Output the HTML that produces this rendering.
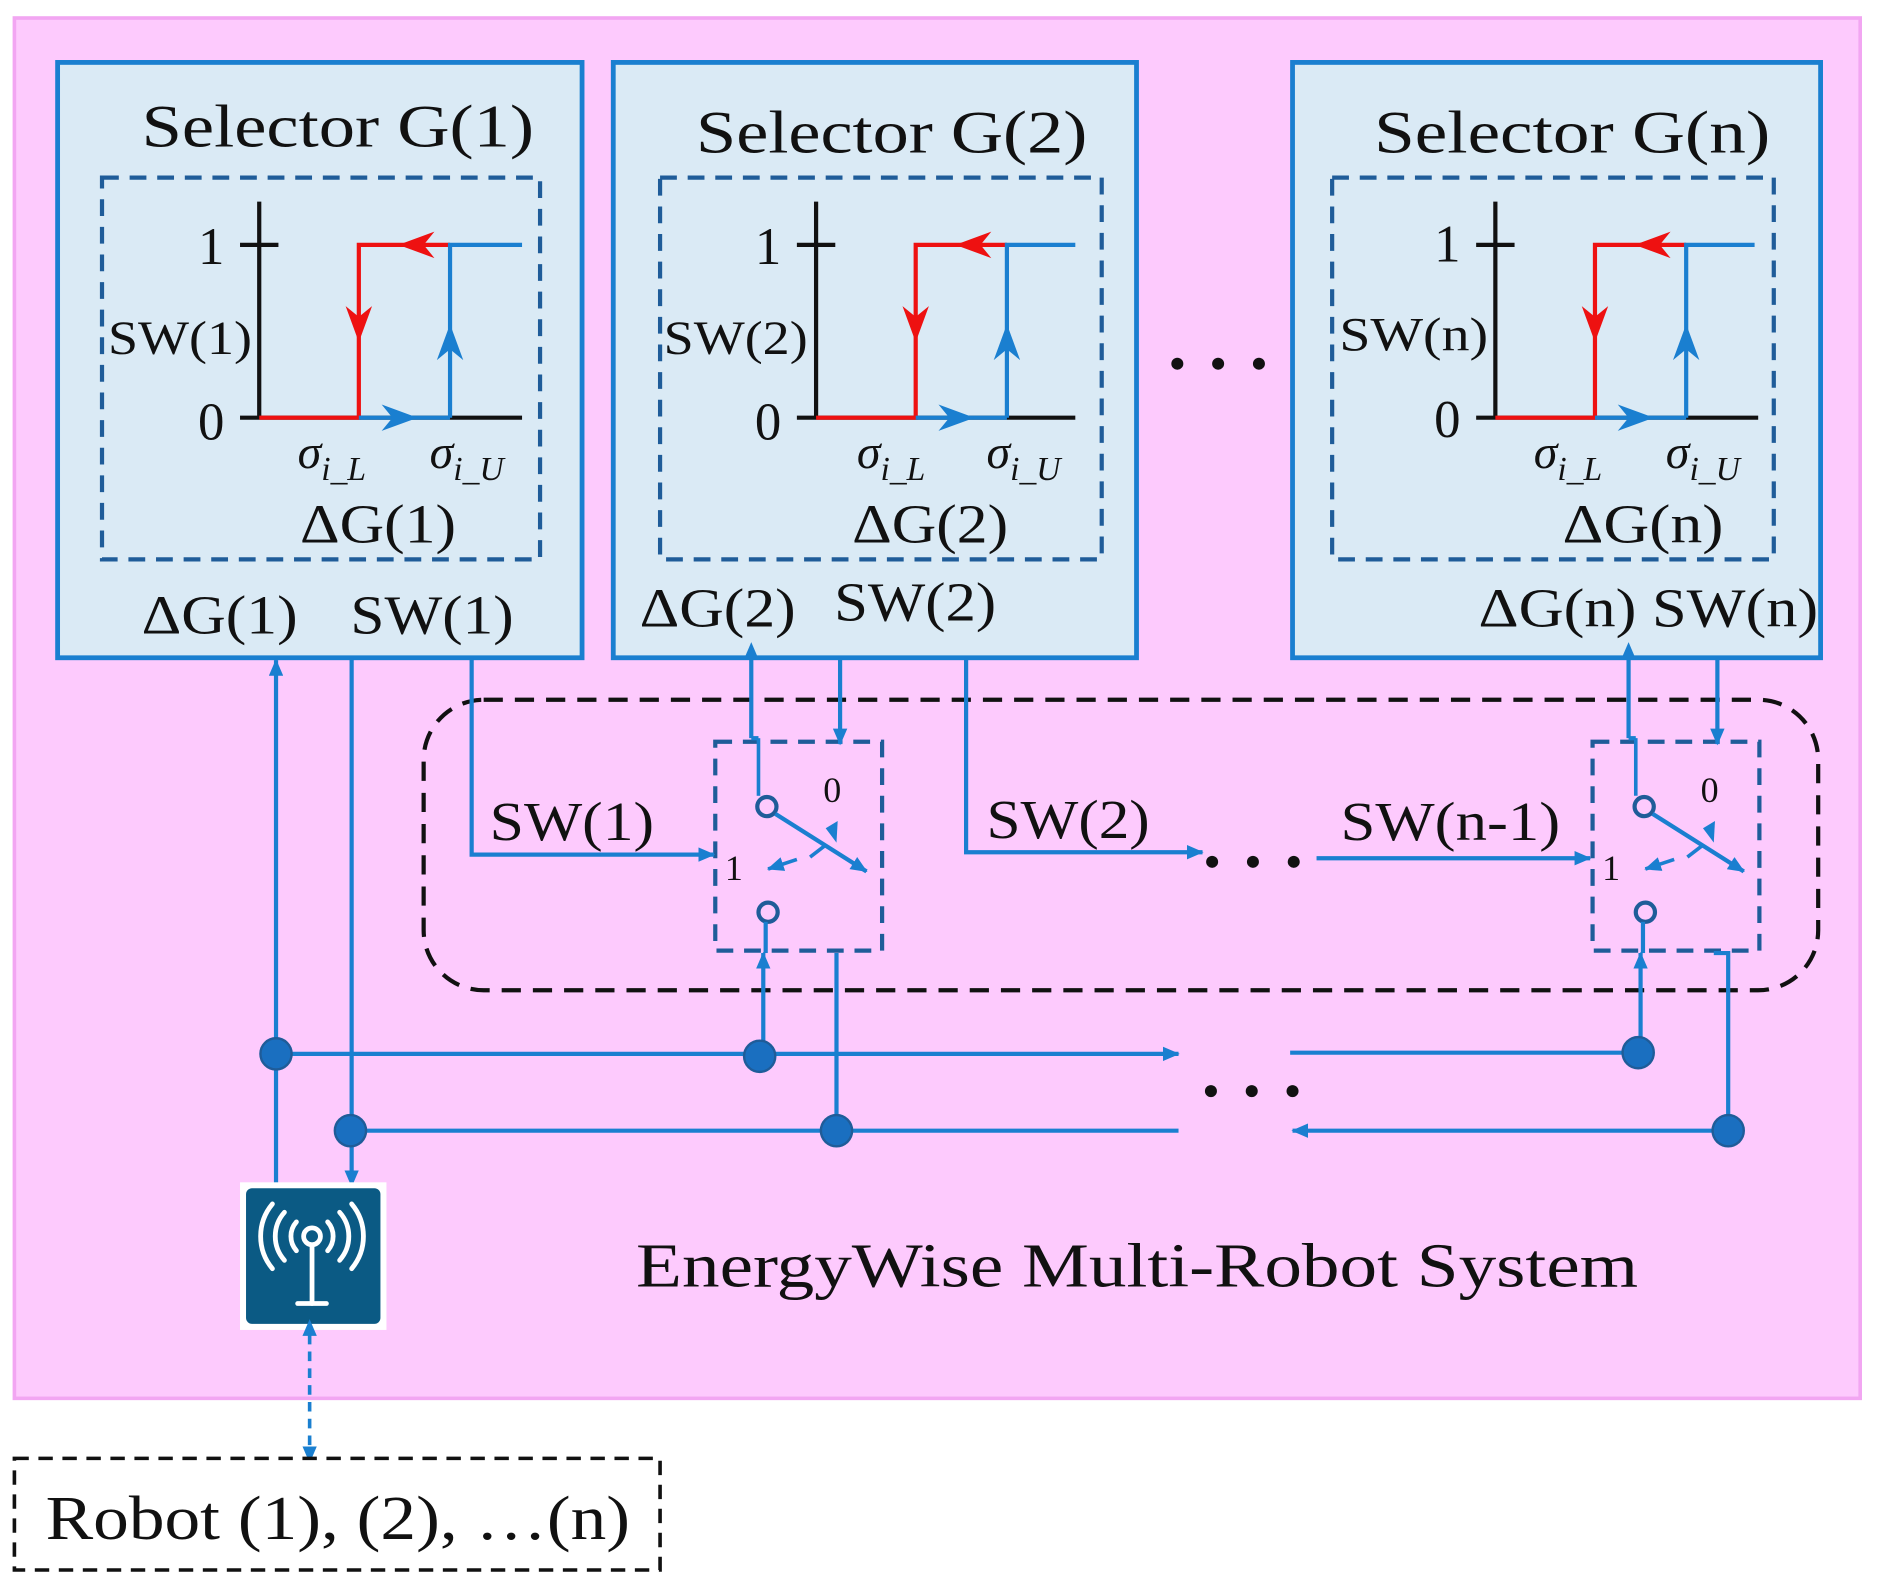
<!DOCTYPE html>
<html><head><meta charset="utf-8"><style>
html,body{margin:0;padding:0;background:#fff;}
svg{display:block;}
text{font-family:"Liberation Serif",serif;fill:#111;}
</style></head><body>
<svg width="1883" height="1588" viewBox="0 0 1569 1323" preserveAspectRatio="none" xmlns="http://www.w3.org/2000/svg">
<defs>
<marker id="abs" markerWidth="14" markerHeight="12" refX="13" refY="6" orient="auto" markerUnits="userSpaceOnUse"><path d="M0,0 L14,6 L0,12 z" fill="#1a7fd0"/></marker>
<marker id="abs0" markerWidth="14" markerHeight="12" refX="1" refY="6" orient="auto-start-reverse" markerUnits="userSpaceOnUse"><path d="M0,0 L14,6 L0,12 z" fill="#1a7fd0"/></marker>
</defs>
<rect x="12" y="15" width="1538" height="1150" fill="#fdcafd" stroke="#f2a6f2" stroke-width="3"/>

<g>
<rect x="48" y="52" width="437" height="496" fill="#daeaf5" stroke="#1a7fd0" stroke-width="4"/>
<text x="118" y="122" font-size="50" textLength="327" lengthAdjust="spacingAndGlyphs">Selector G(1)</text>
<rect x="85" y="148" width="365" height="318" fill="none" stroke="#1f5c99" stroke-width="3.5" stroke-dasharray="14,9"/>
<line x1="216" y1="168" x2="216" y2="348" stroke="#111" stroke-width="3.5"/>
<line x1="200" y1="204" x2="232" y2="204" stroke="#111" stroke-width="3.5"/>
<line x1="200" y1="348" x2="435" y2="348" stroke="#111" stroke-width="3.5"/>
<polyline points="216,348 299,348 299,204 375,204" fill="none" stroke="#ee1111" stroke-width="3.5"/>
<path d="M288,255 L299,285 L310,255 L299,264z" fill="#ee1111"/>
<path d="M362,193 L332,204 L362,215 L353,204z" fill="#ee1111"/>
<line x1="299" y1="348" x2="375" y2="348" stroke="#1a7fd0" stroke-width="3.5"/>
<polyline points="375,348 375,204 435,204" fill="none" stroke="#1a7fd0" stroke-width="3.5"/>
<path d="M364,300 L375,270 L386,300 L375,291z" fill="#1a7fd0"/>
<path d="M318,337 L348,348 L318,359 L327,348z" fill="#1a7fd0"/>
<text x="165" y="220" font-size="44">1</text>
<text x="165" y="366" font-size="44">0</text>
<text x="90" y="295" font-size="40" textLength="120" lengthAdjust="spacingAndGlyphs">SW(1)</text>
<text x="248" y="390" font-size="40" font-style="italic">σ<tspan font-size="28" dy="10">i_L</tspan></text>
<text x="358" y="390" font-size="40" font-style="italic">σ<tspan font-size="28" dy="10">i_U</tspan></text>
<text x="250" y="452" font-size="46" textLength="130" lengthAdjust="spacingAndGlyphs">ΔG(1)</text>
<text x="118" y="528" font-size="46" textLength="130" lengthAdjust="spacingAndGlyphs">ΔG(1)</text>
<text x="292" y="528" font-size="46" textLength="136" lengthAdjust="spacingAndGlyphs">SW(1)</text>
</g>

<g>
<rect x="511" y="52" width="436" height="496" fill="#daeaf5" stroke="#1a7fd0" stroke-width="4"/>
<text x="580" y="127" font-size="50" textLength="326" lengthAdjust="spacingAndGlyphs">Selector G(2)</text>
<rect x="550" y="148" width="368" height="318" fill="none" stroke="#1f5c99" stroke-width="3.5" stroke-dasharray="14,9"/>
<g transform="translate(464,0)">
<line x1="216" y1="168" x2="216" y2="348" stroke="#111" stroke-width="3.5"/>
<line x1="200" y1="204" x2="232" y2="204" stroke="#111" stroke-width="3.5"/>
<line x1="200" y1="348" x2="432" y2="348" stroke="#111" stroke-width="3.5"/>
<polyline points="216,348 299,348 299,204 375,204" fill="none" stroke="#ee1111" stroke-width="3.5"/>
<path d="M288,255 L299,285 L310,255 L299,264z" fill="#ee1111"/>
<path d="M362,193 L332,204 L362,215 L353,204z" fill="#ee1111"/>
<line x1="299" y1="348" x2="375" y2="348" stroke="#1a7fd0" stroke-width="3.5"/>
<polyline points="375,348 375,204 432,204" fill="none" stroke="#1a7fd0" stroke-width="3.5"/>
<path d="M364,300 L375,270 L386,300 L375,291z" fill="#1a7fd0"/>
<path d="M318,337 L348,348 L318,359 L327,348z" fill="#1a7fd0"/>
<text x="165" y="220" font-size="44">1</text>
<text x="165" y="366" font-size="44">0</text>
<text x="89" y="295" font-size="40" textLength="120" lengthAdjust="spacingAndGlyphs">SW(2)</text>
<text x="250" y="390" font-size="40" font-style="italic">σ<tspan font-size="28" dy="10">i_L</tspan></text>
<text x="358" y="390" font-size="40" font-style="italic">σ<tspan font-size="28" dy="10">i_U</tspan></text>
<text x="246" y="452" font-size="46" textLength="130" lengthAdjust="spacingAndGlyphs">ΔG(2)</text>
</g>
<text x="533" y="522" font-size="46" textLength="130" lengthAdjust="spacingAndGlyphs">ΔG(2)</text>
<text x="695" y="517" font-size="46" textLength="135" lengthAdjust="spacingAndGlyphs">SW(2)</text>
</g>

<g>
<rect x="1077" y="52" width="440" height="496" fill="#daeaf5" stroke="#1a7fd0" stroke-width="4"/>
<text x="1145" y="127" font-size="50" textLength="330" lengthAdjust="spacingAndGlyphs">Selector G(n)</text>
<rect x="1110" y="148" width="368" height="318" fill="none" stroke="#1f5c99" stroke-width="3.5" stroke-dasharray="14,9"/>
<g transform="translate(1030,0)">
<line x1="216" y1="168" x2="216" y2="348" stroke="#111" stroke-width="3.5"/>
<line x1="200" y1="204" x2="232" y2="204" stroke="#111" stroke-width="3.5"/>
<line x1="200" y1="348" x2="435" y2="348" stroke="#111" stroke-width="3.5"/>
<polyline points="216,348 299,348 299,204 375,204" fill="none" stroke="#ee1111" stroke-width="3.5"/>
<path d="M288,255 L299,285 L310,255 L299,264z" fill="#ee1111"/>
<path d="M362,193 L332,204 L362,215 L353,204z" fill="#ee1111"/>
<line x1="299" y1="348" x2="375" y2="348" stroke="#1a7fd0" stroke-width="3.5"/>
<polyline points="375,348 375,204 432,204" fill="none" stroke="#1a7fd0" stroke-width="3.5"/>
<path d="M364,300 L375,270 L386,300 L375,291z" fill="#1a7fd0"/>
<path d="M318,337 L348,348 L318,359 L327,348z" fill="#1a7fd0"/>
<text x="165" y="218" font-size="44">1</text>
<text x="165" y="364" font-size="44">0</text>
<text x="86" y="292" font-size="40" textLength="124" lengthAdjust="spacingAndGlyphs">SW(n)</text>
<text x="248" y="390" font-size="40" font-style="italic">σ<tspan font-size="28" dy="10">i_L</tspan></text>
<text x="358" y="390" font-size="40" font-style="italic">σ<tspan font-size="28" dy="10">i_U</tspan></text>
<text x="272" y="452" font-size="46" textLength="134" lengthAdjust="spacingAndGlyphs">ΔG(n)</text>
</g>
<text x="1232" y="522" font-size="46" textLength="283" lengthAdjust="spacingAndGlyphs">ΔG(n) SW(n)</text>
</g>

<g fill="#111">
<circle cx="981" cy="303" r="5"/><circle cx="1015" cy="303" r="5"/><circle cx="1049" cy="303" r="5"/>
<circle cx="1010" cy="718" r="5"/><circle cx="1044" cy="718" r="5"/><circle cx="1078" cy="718" r="5"/>
<circle cx="1009" cy="909" r="5"/><circle cx="1043" cy="909" r="5"/><circle cx="1077" cy="909" r="5"/>
</g>

<rect x="353" y="583" width="1162" height="242" rx="50" fill="none" stroke="#111" stroke-width="3.5" stroke-dasharray="16,10"/>

<g id="sw">
<rect x="596" y="618" width="139" height="174" fill="none" stroke="#1f5c99" stroke-width="3.5" stroke-dasharray="14,9"/>
<line x1="626" y1="548" x2="626" y2="615" stroke="#1a7fd0" stroke-width="3.5" marker-start="url(#abs0)"/>
<line x1="626" y1="615" x2="632" y2="615" stroke="#1a7fd0" stroke-width="3.5"/>
<line x1="632" y1="615" x2="632" y2="663" stroke="#1a7fd0" stroke-width="3"/>
<line x1="700" y1="548" x2="700" y2="620" stroke="#1a7fd0" stroke-width="3.5" marker-end="url(#abs)"/>
<circle cx="639" cy="672" r="8" fill="none" stroke="#1f5c99" stroke-width="3.5"/>
<circle cx="640" cy="760" r="8" fill="none" stroke="#1f5c99" stroke-width="3.5"/>
<line x1="638" y1="768" x2="638" y2="794" stroke="#1a7fd0" stroke-width="3.5"/>
<line x1="646" y1="678" x2="722" y2="726" stroke="#1a7fd0" stroke-width="3.5" marker-end="url(#abs)"/>
<line x1="675" y1="714" x2="688" y2="704" stroke="#1a7fd0" stroke-width="3"/>
<path d="M688,690 L698,684 L697,702z" fill="#1a7fd0"/>
<line x1="664" y1="716" x2="640" y2="724" stroke="#1a7fd0" stroke-width="3" marker-end="url(#abs)"/>
<text x="686" y="668" font-size="30">0</text>
<text x="604" y="733" font-size="30">1</text>
</g>
<use href="#sw" transform="translate(731,0)"/>

<polyline points="393,548 393,712 595,712" fill="none" stroke="#1a7fd0" stroke-width="3.5" marker-end="url(#abs)"/>
<text x="408" y="700" font-size="46" textLength="137" lengthAdjust="spacingAndGlyphs">SW(1)</text>
<polyline points="805,548 805,710 1002,710" fill="none" stroke="#1a7fd0" stroke-width="3.5" marker-end="url(#abs)"/>
<text x="822" y="698" font-size="46" textLength="136" lengthAdjust="spacingAndGlyphs">SW(2)</text>
<line x1="1097" y1="715" x2="1325" y2="715" stroke="#1a7fd0" stroke-width="3.5" marker-end="url(#abs)"/>
<text x="1117" y="700" font-size="46" textLength="183" lengthAdjust="spacingAndGlyphs">SW(n-1)</text>

<line x1="230" y1="988" x2="230" y2="550" stroke="#1a7fd0" stroke-width="3.5" marker-end="url(#abs)"/>
<line x1="293" y1="548" x2="293" y2="988" stroke="#1a7fd0" stroke-width="3.5" marker-end="url(#abs)"/>

<line x1="230" y1="878" x2="982" y2="878" stroke="#1a7fd0" stroke-width="3.5" marker-end="url(#abs)"/>
<line x1="1075" y1="877" x2="1365" y2="877" stroke="#1a7fd0" stroke-width="3.5"/>
<line x1="636" y1="880" x2="636" y2="794" stroke="#1a7fd0" stroke-width="3.5" marker-end="url(#abs)"/>
<line x1="1367" y1="877" x2="1367" y2="794" stroke="#1a7fd0" stroke-width="3.5" marker-end="url(#abs)"/>
<line x1="292" y1="942" x2="982" y2="942" stroke="#1a7fd0" stroke-width="3.5"/>
<line x1="1440" y1="942" x2="1077" y2="942" stroke="#1a7fd0" stroke-width="3.5" marker-end="url(#abs)"/>
<line x1="697" y1="794" x2="697" y2="942" stroke="#1a7fd0" stroke-width="3.5"/>
<polyline points="1428,794 1440,794 1440,942" fill="none" stroke="#1a7fd0" stroke-width="3.5"/>
<g fill="#1a6fc0" stroke="#1f5c99" stroke-width="2">
<circle cx="230" cy="878" r="13"/><circle cx="633" cy="880" r="13"/><circle cx="1365" cy="877" r="13"/>
<circle cx="292" cy="942" r="13"/><circle cx="697" cy="942" r="13"/><circle cx="1440" cy="942" r="13"/>
</g>

<rect x="200" y="985" width="122" height="123" fill="#fff"/>
<rect x="205" y="990" width="112" height="113" rx="5" fill="#0b5a84"/>
<g fill="none" stroke="#fff" stroke-width="4" stroke-linecap="round">
<circle cx="260" cy="1030" r="7"/>
<line x1="260" y1="1037" x2="260" y2="1086"/>
<line x1="248" y1="1086" x2="272" y2="1086"/>
<path d="M247,1018 A18,18 0 0 0 247,1042"/><path d="M273,1018 A18,18 0 0 1 273,1042"/>
<path d="M237,1010 A30,30 0 0 0 237,1050"/><path d="M283,1010 A30,30 0 0 1 283,1050"/>
<path d="M227,1003 A42,42 0 0 0 227,1057"/><path d="M293,1003 A42,42 0 0 1 293,1057"/>
</g>
<line x1="258" y1="1112" x2="258" y2="1218" stroke="#1a7fd0" stroke-width="3" stroke-dasharray="8,6" marker-start="url(#abs0)" marker-end="url(#abs)"/>

<text x="530" y="1072" font-size="52" textLength="835" lengthAdjust="spacingAndGlyphs">EnergyWise Multi-Robot System</text>

<rect x="12" y="1215" width="538" height="93" fill="#fff" stroke="#111" stroke-width="3" stroke-dasharray="12,8"/>
<text x="38" y="1282" font-size="52" textLength="487" lengthAdjust="spacingAndGlyphs">Robot (1), (2), …(n)</text>
</svg>
</body></html>
